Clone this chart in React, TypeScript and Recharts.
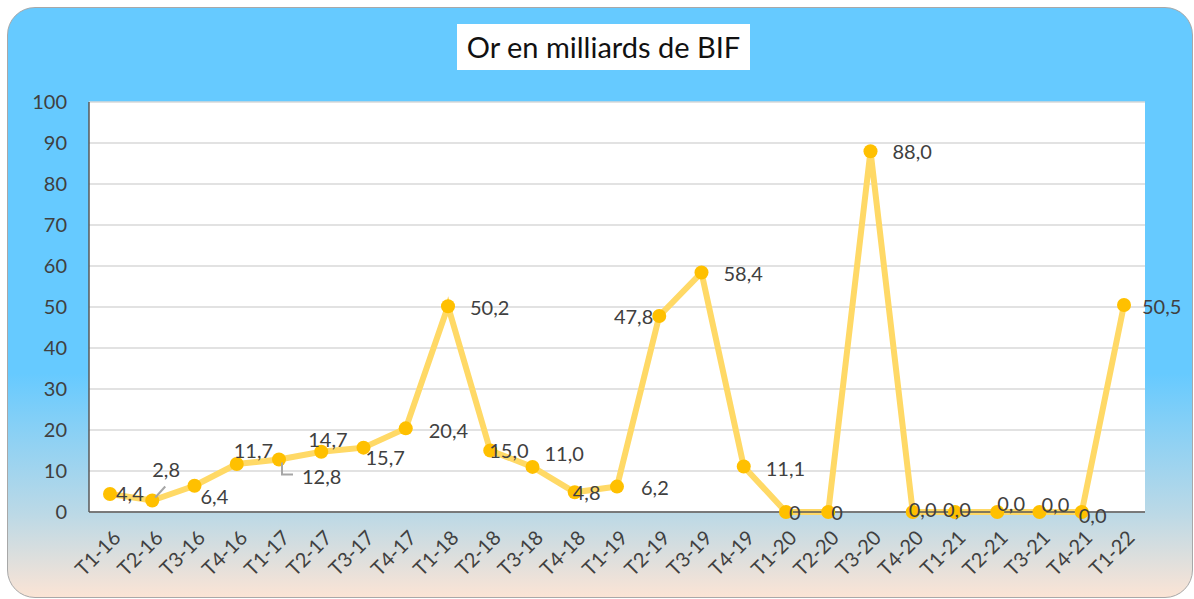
import React from 'react';
import { LineChart, Line, XAxis, YAxis, CartesianGrid, LabelList } from 'recharts';

// quarters (trimestres)
const quarters = [
  'T1-16', 'T2-16', 'T3-16', 'T4-16',
  'T1-17', 'T2-17', 'T3-17', 'T4-17',
  'T1-18', 'T2-18', 'T3-18', 'T4-18',
  'T1-19', 'T2-19', 'T3-19', 'T4-19',
  'T1-20', 'T2-20', 'T3-20', 'T4-20',
  'T1-21', 'T2-21', 'T3-21', 'T4-21',
  'T1-22',
];

// or, en milliards de BIF
const orValues = [
  4.4, 2.8, 6.4, 11.7,
  12.8, 14.7, 15.7, 20.4,
  50.2, 15.0, 11.0, 4.8,
  6.2, 47.8, 58.4, 11.1,
  0, 0, 88.0, 0.0,
  0.0, 0.0, 0.0, 0.0,
  50.5,
];

// labels as printed on the chart
const valueLabels = [
  '4,4', '2,8', '6,4', '11,7',
  '12,8', '14,7', '15,7', '20,4',
  '50,2', '15,0', '11,0', '4,8',
  '6,2', '47,8', '58,4', '11,1',
  '0', '0', '88,0', '0,0',
  '0,0', '0,0', '0,0', '0,0',
  '50,5',
];

const yTicks = [0, 10, 20, 30, 40, 50, 60, 70, 80, 90, 100];

// label nudges (dx, dy from the dot), the labels were moved by hand in the original
const labelNudge: [number, number][] = [
  [6, 0], [0, -31], [6, 11], [-3, -13],
  [23, 17], [-13, -12], [2, 10], [23, 3],
  [22, 2], [-1, 0], [12, -13], [-2, 1],
  [24, 1], [-6, 1], [22, 1], [22, 3],
  [3, 1], [3, 1], [22, 1], [-4, -2],
  [-12, -2], [0, -8], [2, -7], [-3, 4],
  [18, 2],
];
const endAnchored = [13];

const data = quarters.map((q, i) => ({ name: q, value: orValues[i] }));

const TEXT = '#404040';

const renderLabel = (props: any) => {
  const { x, y, index } = props;
  const [dx, dy] = labelNudge[index];
  const end = endAnchored.includes(index);
  let leader = null;
  if (index === 1) {
    leader = <line x1={x + 3} y1={y - 3} x2={x + 13} y2={y - 14} stroke="#A6A6A6" strokeWidth={2} />;
  } else if (index === 4) {
    leader = (
      <path d={`M${x + 3},${y + 3} V${y + 15} H${x + 14}`} fill="none" stroke="#A6A6A6" strokeWidth={2} />
    );
  }
  return (
    <g>
      {leader}
      <text
        x={x + dx}
        y={y + dy}
        dy="0.35em"
        textAnchor={end ? 'end' : 'start'}
        fill={TEXT}
        fontSize={20}
      >
        {valueLabels[index]}
      </text>
    </g>
  );
};

const XTick = (props: any) => {
  const { x, y, payload } = props;
  return (
    <g transform={`translate(${x + 12},${y + 19})`}>
      <text x={0} y={0} textAnchor="end" transform="rotate(-45)" fill={TEXT} fontSize={20}>
        {payload.value}
      </text>
    </g>
  );
};

export default function App() {
  return (
    <div
      style={{
        position: 'absolute',
        left: 0,
        top: 0,
        width: 1194,
        height: 599,
        fontFamily: 'Lato, sans-serif',
        background: '#fff',
      }}
    >
      <div
        style={{
          position: 'absolute',
          left: 7,
          top: 7,
          width: 1184,
          height: 589,
          borderRadius: 28,
          border: '1px solid #a8a8a8',
          background:
            'linear-gradient(to bottom, #66CAFF 0%, #66CAFF 62%, #BCD9E6 86%, #FBE4D5 100%)',
        }}
      />
      <div
        style={{
          position: 'absolute',
          left: 457,
          top: 24,
          width: 293,
          height: 46,
          background: '#fff',
          color: '#111',
          fontSize: 29,
          lineHeight: '46px',
          textAlign: 'center',
        }}
      >
        Or en milliards de BIF
      </div>
      <div style={{ position: 'absolute', left: 0, top: 0 }}>
        <LineChart width={1194} height={599} data={data} margin={{ top: 102, right: 49, bottom: 0, left: 0 }}>
          <CartesianGrid vertical={false} stroke="#D9D9D9" strokeWidth={1.5} fill="#fff" />
          <XAxis
            dataKey="name"
            height={87}
            padding={{ left: 21, right: 21 }}
            interval={0}
            tickLine={false}
            axisLine={{ stroke: '#595959', strokeWidth: 1.5 }}
            tick={<XTick />}
          />
          <YAxis
            width={89}
            domain={[0, 100]}
            ticks={yTicks}
            interval={0}
            tickLine={false}
            tickMargin={16}
            axisLine={{ stroke: '#595959', strokeWidth: 1.5 }}
            tick={{ fill: TEXT, fontSize: 20 }}
          />
          <Line
            type="linear"
            dataKey="value"
            stroke="#FFD966"
            strokeWidth={6}
            dot={{ r: 7, fill: '#FFC000', stroke: '#FFC000', strokeWidth: 0 }}
            isAnimationActive={false}
          >
            <LabelList dataKey="value" content={renderLabel} />
          </Line>
        </LineChart>
      </div>
    </div>
  );
}
